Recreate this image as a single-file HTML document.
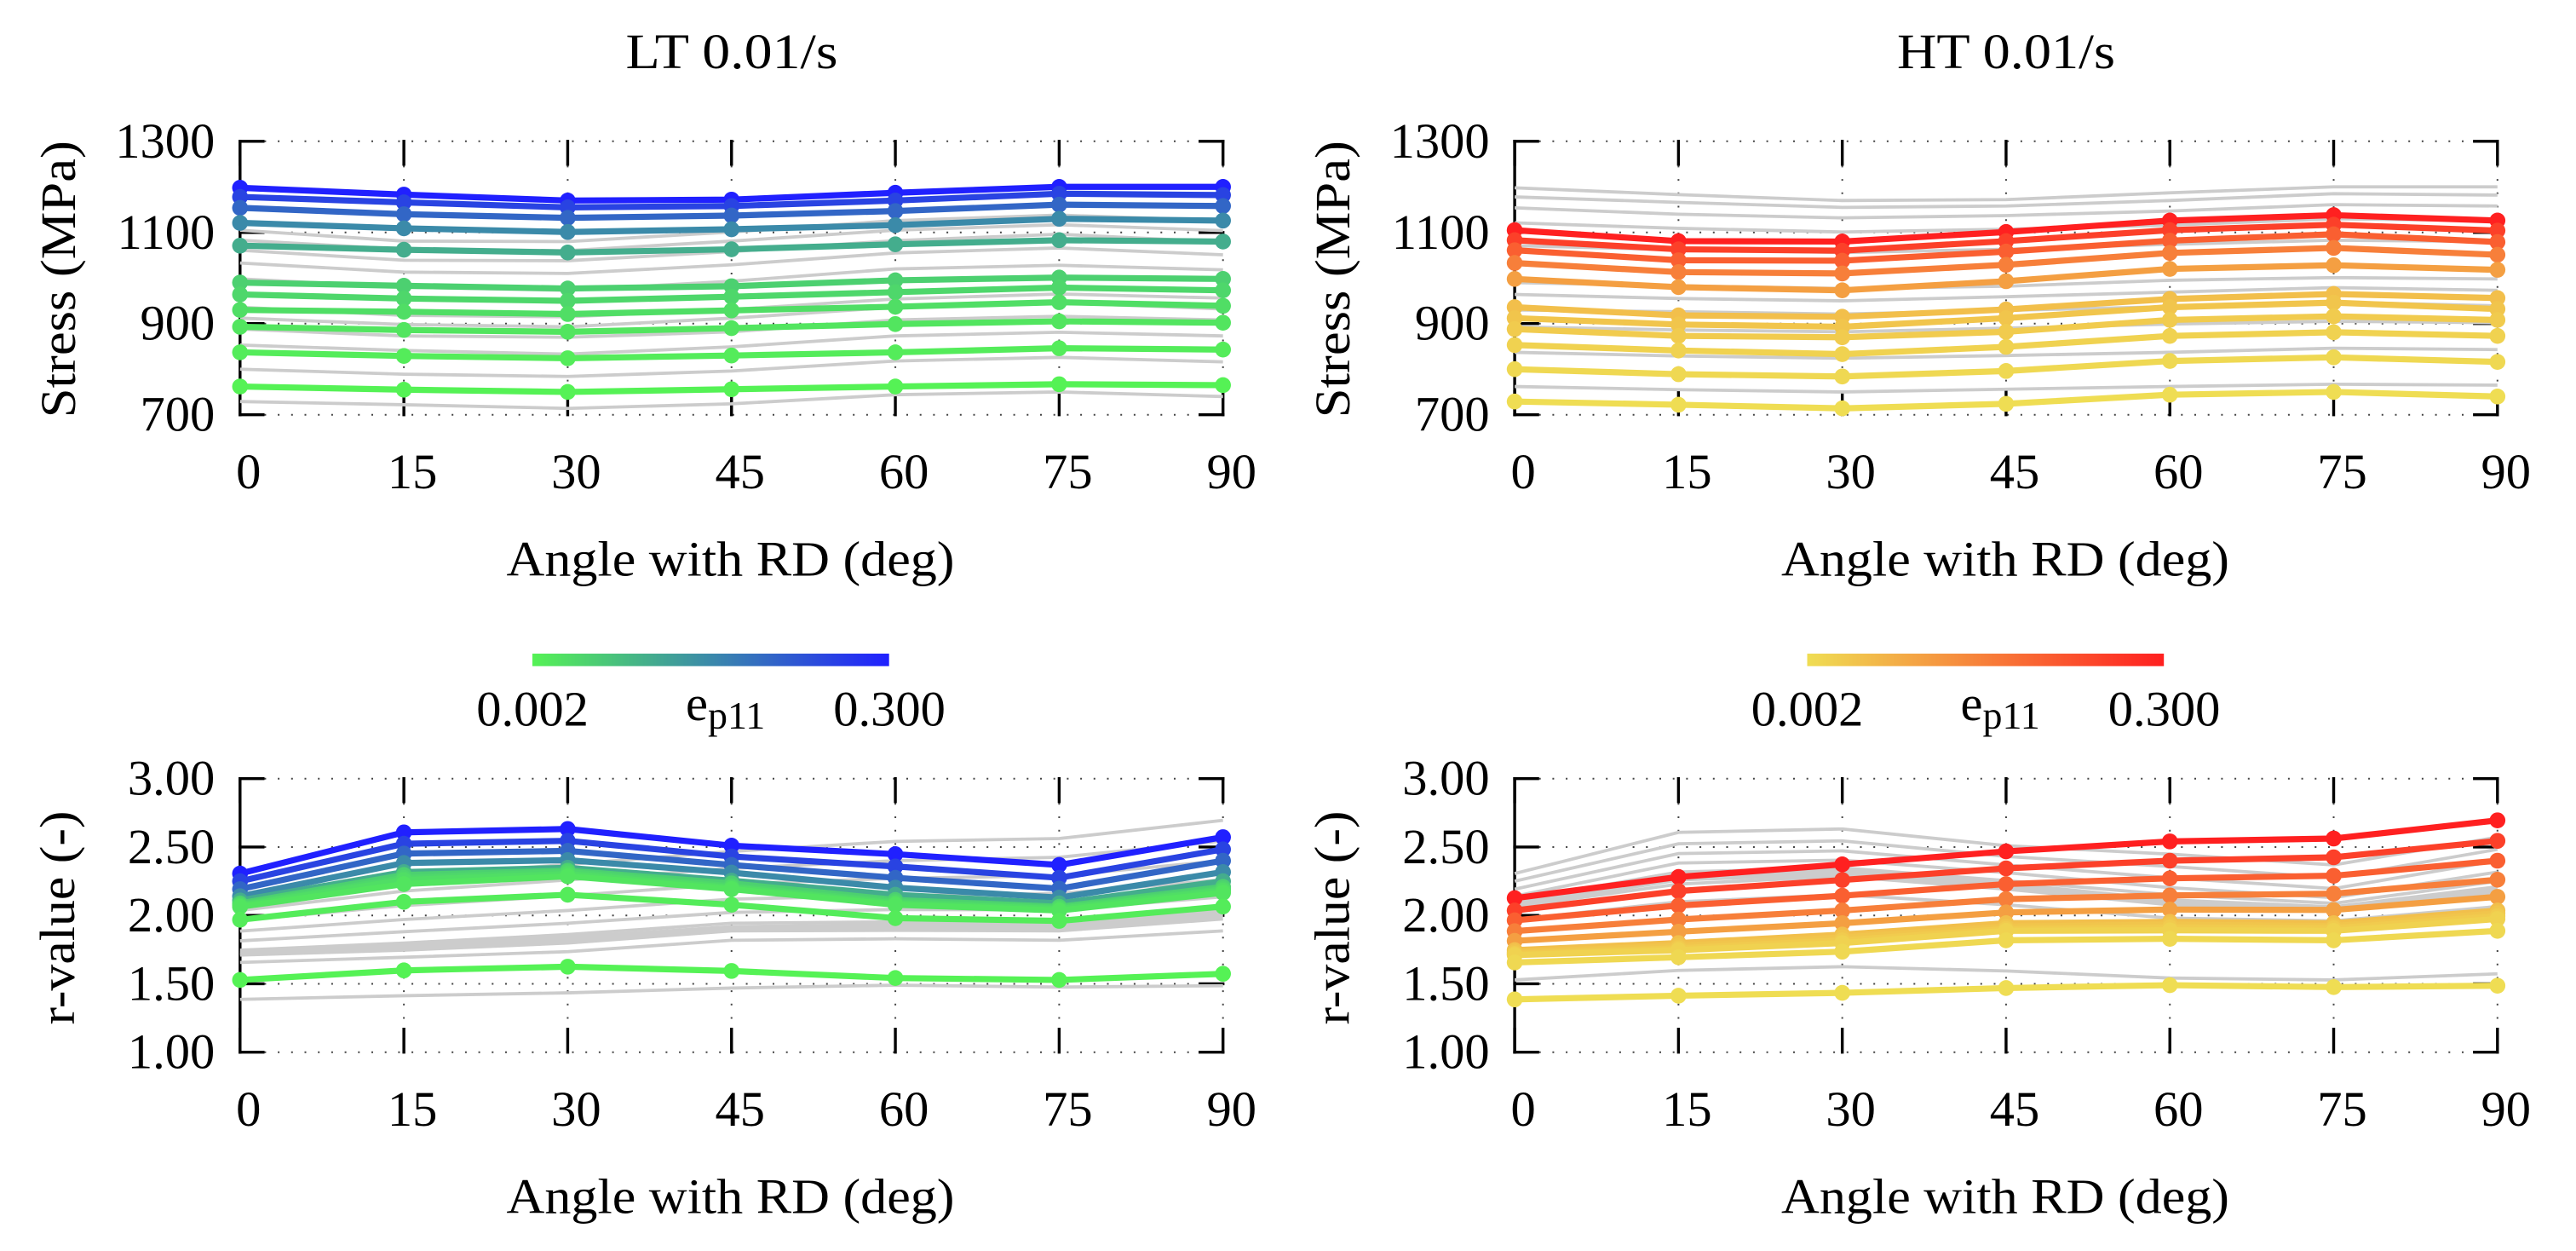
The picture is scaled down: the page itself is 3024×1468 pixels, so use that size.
<!DOCTYPE html>
<html lang="en">
<head>
<meta charset="utf-8">
<title>LT and HT stress and r-value versus angle with RD</title>
<style>
html,body{margin:0;padding:0;background:#fff;width:3024px;height:1468px;overflow:hidden}
svg{display:block}
text{font-family:"Liberation Serif","DejaVu Serif",serif;font-size:58.5px;fill:#000}
</style>
</head>
<body>
<svg id="figure" xmlns="http://www.w3.org/2000/svg" width="3024" height="1468" viewBox="0 0 3024 1468">
  <defs>
    <linearGradient id="lt-gradient" x1="0" x2="1" y1="0" y2="0">
      <stop offset="0" stop-color="rgb(85,242,85)"/><stop offset="1" stop-color="rgb(32,32,255)"/>
    </linearGradient>
    <linearGradient id="ht-gradient" x1="0" x2="1" y1="0" y2="0">
      <stop offset="0" stop-color="rgb(239,221,83)"/><stop offset="1" stop-color="rgb(255,32,32)"/>
    </linearGradient>
  </defs>
  <rect width="3024" height="1468" fill="#fff"/>
  <g id="plots"></g>

  <text x="859" y="80" text-anchor="middle" textLength="249" lengthAdjust="spacingAndGlyphs">LT 0.01/s</text>
  <text x="2355" y="80" text-anchor="middle" textLength="256" lengthAdjust="spacingAndGlyphs">HT 0.01/s</text>

  <text x="88" y="327.7" text-anchor="middle" textLength="325" lengthAdjust="spacingAndGlyphs" transform="rotate(-90 88 327.7)">Stress (MPa)</text>
  <text x="1584" y="327.7" text-anchor="middle" textLength="325" lengthAdjust="spacingAndGlyphs" transform="rotate(-90 1584 327.7)">Stress (MPa)</text>
  <text x="87" y="1077" text-anchor="middle" textLength="251" lengthAdjust="spacingAndGlyphs" transform="rotate(-90 87 1077)">r-value (-)</text>
  <text x="1583.5" y="1077" text-anchor="middle" textLength="251" lengthAdjust="spacingAndGlyphs" transform="rotate(-90 1583.5 1077)">r-value (-)</text>

  <text x="857.5" y="675.7" text-anchor="middle" textLength="526" lengthAdjust="spacingAndGlyphs">Angle with RD (deg)</text>
  <text x="2354" y="675.7" text-anchor="middle" textLength="526" lengthAdjust="spacingAndGlyphs">Angle with RD (deg)</text>
  <text x="857.5" y="1423.7" text-anchor="middle" textLength="526" lengthAdjust="spacingAndGlyphs">Angle with RD (deg)</text>
  <text x="2354" y="1423.7" text-anchor="middle" textLength="526" lengthAdjust="spacingAndGlyphs">Angle with RD (deg)</text>

  <rect x="625" y="767" width="418.7" height="14.7" fill="url(#lt-gradient)"/>
  <text x="625" y="851.7" text-anchor="middle">0.002</text>
  <text x="805" y="845">e<tspan dy="10" style="font-size:46px">p11</tspan></text>
  <text x="1044" y="851.7" text-anchor="middle">0.300</text>

  <rect x="2121.5" y="767" width="418.7" height="14.7" fill="url(#ht-gradient)"/>
  <text x="2121.5" y="851.7" text-anchor="middle">0.002</text>
  <text x="2301.5" y="845">e<tspan dy="10" style="font-size:46px">p11</tspan></text>
  <text x="2540.5" y="851.7" text-anchor="middle">0.300</text>
</svg>

<script>
// Categories
const angles = [0, 15, 30, 45, 60, 75, 90];
const strainLevels = [0.002, 0.01, 0.02, 0.03, 0.04, 0.05, 0.1, 0.15, 0.2, 0.25, 0.3];

// Tick labels
const xTickLabels = ["0", "15", "30", "45", "60", "75", "90"];
const stressTicks = [700, 900, 1100, 1300];
const stressTickLabels = ["700", "900", "1100", "1300"];
const rValueTicks = [1, 1.5, 2, 2.5, 3];
const rValueTickLabels = ["1.00", "1.50", "2.00", "2.50", "3.00"];

// Series values, one row per strain level (same order as strainLevels)
const ltStress = [
  [762, 755, 750, 756, 762, 767, 765],
  [837, 829, 824, 830, 837, 846, 843],
  [893, 886, 882, 890, 899, 905, 902],
  [930, 926, 921, 929, 937, 947, 939],
  [964, 955, 950, 959, 969, 979, 973],
  [990, 983, 977, 982, 995, 1001, 998],
  [1071, 1062, 1056, 1063, 1074, 1083, 1080],
  [1121, 1109, 1101, 1107, 1116, 1130, 1126],
  [1154, 1140, 1132, 1137, 1147, 1161, 1158],
  [1178, 1166, 1155, 1158, 1170, 1185, 1182],
  [1198, 1183, 1170, 1172, 1187, 1200, 1200]
];
const htStress = [
  [729, 722, 714, 724, 744, 750, 740],
  [800, 789, 784, 796, 818, 826, 816],
  [853, 841, 833, 849, 873, 881, 873],
  [888, 873, 870, 882, 908, 916, 908],
  [912, 898, 893, 912, 936, 946, 932],
  [936, 918, 915, 931, 954, 965, 956],
  [998, 980, 973, 993, 1020, 1028, 1018],
  [1033, 1013, 1010, 1029, 1055, 1066, 1051],
  [1061, 1039, 1038, 1058, 1082, 1096, 1079],
  [1083, 1063, 1060, 1081, 1105, 1117, 1104],
  [1105, 1081, 1080, 1101, 1126, 1138, 1126]
];
const ltRValue = [
  [1.528, 1.598, 1.625, 1.594, 1.542, 1.528, 1.573],
  [1.968, 2.099, 2.151, 2.078, 1.980, 1.960, 2.065],
  [2.063, 2.229, 2.286, 2.192, 2.078, 2.036, 2.165],
  [2.072, 2.259, 2.302, 2.203, 2.088, 2.047, 2.182],
  [2.078, 2.275, 2.317, 2.213, 2.099, 2.055, 2.192],
  [2.088, 2.296, 2.327, 2.234, 2.113, 2.063, 2.209],
  [2.109, 2.317, 2.348, 2.254, 2.151, 2.088, 2.250],
  [2.140, 2.383, 2.404, 2.313, 2.203, 2.130, 2.317],
  [2.192, 2.452, 2.472, 2.369, 2.275, 2.196, 2.400],
  [2.250, 2.524, 2.545, 2.431, 2.358, 2.275, 2.483],
  [2.306, 2.607, 2.632, 2.510, 2.448, 2.369, 2.572]
];
const htRValue = [
  [1.386, 1.413, 1.434, 1.469, 1.490, 1.476, 1.486],
  [1.656, 1.694, 1.735, 1.818, 1.829, 1.818, 1.887],
  [1.710, 1.746, 1.798, 1.887, 1.891, 1.887, 1.974],
  [1.719, 1.760, 1.818, 1.901, 1.912, 1.906, 1.995],
  [1.731, 1.777, 1.839, 1.918, 1.933, 1.922, 2.016],
  [1.746, 1.798, 1.860, 1.943, 1.953, 1.943, 2.036],
  [1.814, 1.881, 1.943, 2.022, 2.043, 2.040, 2.136],
  [1.885, 1.970, 2.036, 2.119, 2.146, 2.159, 2.261],
  [1.964, 2.072, 2.144, 2.229, 2.271, 2.290, 2.400],
  [2.036, 2.178, 2.259, 2.344, 2.400, 2.425, 2.545],
  [2.126, 2.281, 2.373, 2.468, 2.541, 2.562, 2.695]
];

// Rendering
const NS = 'http://www.w3.org/2000/svg';
const plots = document.getElementById('plots');
const strainMin = strainLevels[0];
const strainMax = strainLevels[strainLevels.length - 1];
const angleMin = angles[0];
const angleMax = angles[angles.length - 1];

function svgEl(tag, parent) {
  const el = document.createElementNS(NS, tag);
  parent.appendChild(el);
  return el;
}
function mix(a, b, t) {
  return 'rgb(' + a.map(function (v, i) { return Math.round(v + (b[i] - v) * t); }).join(',') + ')';
}
function pointsFor(values, xScale, yScale) {
  return values.map(function (v, i) { return xScale(angles[i]) + ',' + yScale(v); }).join(' ');
}

function drawPanel(p) {
  const xScale = function (a) { return p.left + (a - angleMin) / (angleMax - angleMin) * (p.right - p.left); };
  const yScale = function (v) { return p.bottom - (v - p.domain[0]) / (p.domain[1] - p.domain[0]) * (p.bottom - p.top); };

  const panel = svgEl('g', plots);
  
  

  // Dotted grid
  function gridLine(x1, y1, x2, y2) {
    const g = svgEl('line', panel);
    
    
    g.setAttribute('x1', x1); g.setAttribute('y1', y1);
    g.setAttribute('x2', x2); g.setAttribute('y2', y2);
    g.setAttribute('stroke', '#444');
    g.setAttribute('stroke-width', '2');
    g.setAttribute('stroke-dasharray', '2 13.7');
    g.setAttribute('stroke-dashoffset', '2.8');
  }
  angles.forEach(function (a) { gridLine(xScale(a), p.top, xScale(a), p.bottom); });
  p.yTicks.forEach(function (t) { gridLine(p.left, yScale(t), p.right, yScale(t)); });

  // Axis and ticks
  function solid(x1, y1, x2, y2, name) {
    const s = svgEl('line', panel);
    
    
    s.setAttribute('x1', x1); s.setAttribute('y1', y1);
    s.setAttribute('x2', x2); s.setAttribute('y2', y2);
    s.setAttribute('stroke', '#000');
    s.setAttribute('stroke-width', '3.4');
    s.setAttribute('stroke-linecap', 'square');
  }
  const tickLength = 27;
  solid(p.left, p.top, p.left, p.bottom, 'y-axis-line');
  p.yTicks.forEach(function (t) {
    solid(p.left, yScale(t), p.left + tickLength, yScale(t), 'y-tick');
    solid(p.right - tickLength, yScale(t), p.right, yScale(t), 'y-tick-mirror');
  });
  angles.forEach(function (a) {
    solid(xScale(a), p.bottom - tickLength, xScale(a), p.bottom, 'x-tick');
    solid(xScale(a), p.top, xScale(a), p.top + tickLength, 'x-tick-mirror');
  });

  // Tick labels
  p.yTicks.forEach(function (t, i) {
    const label = svgEl('text', panel);
    
    
    label.setAttribute('x', p.left - 29.5);
    label.setAttribute('y', yScale(t) + 19);
    label.setAttribute('text-anchor', 'end');
    label.textContent = p.yLabels[i];
  });
  angles.forEach(function (a, i) {
    const label = svgEl('text', panel);
    
    
    label.setAttribute('x', xScale(a) + 10);
    label.setAttribute('y', p.bottom + 86.3);
    label.setAttribute('text-anchor', 'middle');
    label.textContent = xTickLabels[i];
  });

  // Gray comparison lines from the other material
  p.other.forEach(function (values) {
    const gray = svgEl('polyline', panel);
    
    
    gray.setAttribute('points', pointsFor(values, xScale, yScale));
    gray.setAttribute('fill', 'none');
    gray.setAttribute('stroke', '#cccccc');
    gray.setAttribute('stroke-width', '3.8');
  });

  // Coloured series, highest strain first so the lowest strain is on top
  for (let s = p.series.length - 1; s >= 0; s--) {
    const t = (strainLevels[s] - strainMin) / (strainMax - strainMin);
    const color = mix(p.coldColor, p.hotColor, t);
    const group = svgEl('g', panel);
    
    
    const line = svgEl('polyline', group);
    
    
    line.setAttribute('points', pointsFor(p.series[s], xScale, yScale));
    line.setAttribute('fill', 'none');
    line.setAttribute('stroke', color);
    line.setAttribute('stroke-width', '7.2');
    p.series[s].forEach(function (v, i) {
      const dot = svgEl('circle', group);
      
      
      dot.setAttribute('cx', xScale(angles[i]));
      dot.setAttribute('cy', yScale(v));
      dot.setAttribute('r', '9.3');
      dot.setAttribute('fill', color);
    });
  }
}

const ltCold = [85, 242, 85];
const ltHot = [32, 32, 255];
const htCold = [239, 221, 83];
const htHot = [255, 32, 32];

drawPanel({left: 281.8, right: 1435.7, top: 165.8, bottom: 486.7, domain: [700, 1300], yTicks: stressTicks, yLabels: stressTickLabels, series: ltStress, other: htStress, coldColor: ltCold, hotColor: ltHot});
drawPanel({left: 1778.1, right: 2931.8, top: 165.8, bottom: 486.7, domain: [700, 1300], yTicks: stressTicks, yLabels: stressTickLabels, series: htStress, other: ltStress, coldColor: htCold, hotColor: htHot});
drawPanel({left: 281.8, right: 1435.7, top: 913.7, bottom: 1234.7, domain: [1, 3], yTicks: rValueTicks, yLabels: rValueTickLabels, series: ltRValue, other: htRValue, coldColor: ltCold, hotColor: ltHot});
drawPanel({left: 1778.1, right: 2931.8, top: 913.7, bottom: 1234.7, domain: [1, 3], yTicks: rValueTicks, yLabels: rValueTickLabels, series: htRValue, other: ltRValue, coldColor: htCold, hotColor: htHot});
</script>
</body>
</html>
